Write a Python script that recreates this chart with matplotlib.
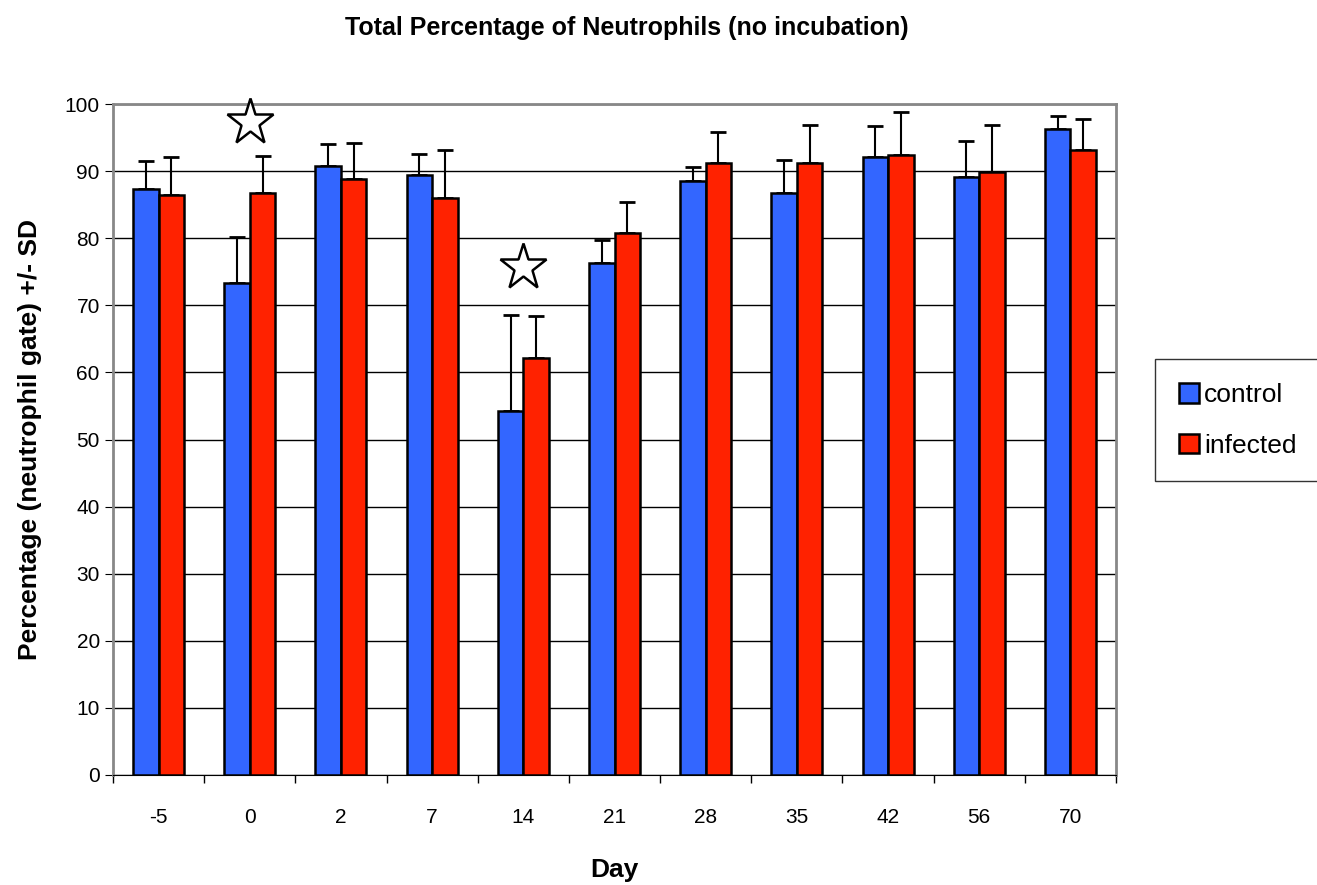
import numpy as np
import matplotlib.pyplot as plt

plt.rcParams["font.family"] = ["Liberation Sans", "DejaVu Sans"]

days = ["-5", "0", "2", "7", "14", "21", "28", "35", "42", "56", "70"]
control = [87.3, 73.4, 90.8, 89.4, 54.3, 76.3, 88.5, 86.7, 92.1, 89.2, 96.3]
control_sd = [4.2, 6.8, 3.2, 3.1, 14.3, 3.5, 2.1, 5.0, 4.6, 5.3, 1.9]
infected = [86.4, 86.8, 88.9, 86.0, 62.1, 80.8, 91.3, 91.2, 92.4, 89.9, 93.2]
infected_sd = [5.7, 5.5, 5.3, 7.2, 6.3, 4.6, 4.6, 5.7, 6.5, 7.0, 4.6]
star_x = [1, 4]
star_y = [97.3, 75.8]

x = np.arange(len(days))
w = 0.28

fig = plt.figure(figsize=(13.17, 8.85), dpi=100)
ax = fig.add_axes([0.0858, 0.1243, 0.7616, 0.758])

ax.set_axisbelow(True)
ax.yaxis.grid(True, color="black", linewidth=1)
ax.bar(x - w / 2, control, w, color="#3366ff", edgecolor="black", linewidth=1.8,
       label="control", zorder=3)
ax.bar(x + w / 2, infected, w, color="#ff2200", edgecolor="black", linewidth=1.8,
       label="infected", zorder=3)
ax.errorbar(x - w / 2, control, yerr=[np.zeros(len(x)), control_sd], fmt="none",
            ecolor="black", elinewidth=1.5, capsize=6, capthick=2, zorder=2)
ax.errorbar(x + w / 2, infected, yerr=[np.zeros(len(x)), infected_sd], fmt="none",
            ecolor="black", elinewidth=1.5, capsize=6, capthick=2, zorder=2)
ax.plot(star_x, star_y, linestyle="none", marker="*", markersize=35,
        markerfacecolor="white", markeredgecolor="black", markeredgewidth=1.8,
        zorder=4, clip_on=False)

ax.set_xlim(-0.5, len(days) - 0.5)
ax.set_ylim(0, 100)
ax.set_yticks(range(0, 101, 10))
ax.set_xticks(x)
ax.set_xticklabels(days, fontsize=15)
ax.set_xticks(np.arange(-0.5, len(days)), minor=True)
ax.tick_params(axis="x", which="major", length=0, pad=24)
ax.tick_params(axis="x", which="minor", length=6, direction="out", width=1)
ax.tick_params(axis="y", labelsize=15, length=6, direction="out")
for s in ["top", "right", "left"]:
    ax.spines[s].set_color("#888888")
    ax.spines[s].set_linewidth(2)
ax.spines["bottom"].set_color("black")

ax.set_xlabel("Day", fontsize=19, fontweight="bold", labelpad=22)
ax.set_ylabel("Percentage (neutrophil gate) +/- SD", fontsize=19, fontweight="bold", labelpad=16)
fig.text(0.476, 0.968, "Total Percentage of Neutrophils (no incubation)", fontsize=18,
         fontweight="bold", ha="center", va="center")

leg = fig.legend(loc="center left", bbox_to_anchor=(0.877, 0.525), fontsize=19,
                 frameon=True, fancybox=False, edgecolor="black", handlelength=0.75,
                 handleheight=0.75, handletextpad=0.2, labelspacing=1.0, borderpad=0.9,
                 borderaxespad=0)
leg.get_frame().set_linewidth(1)

fig.savefig("out.png", dpi=100)
